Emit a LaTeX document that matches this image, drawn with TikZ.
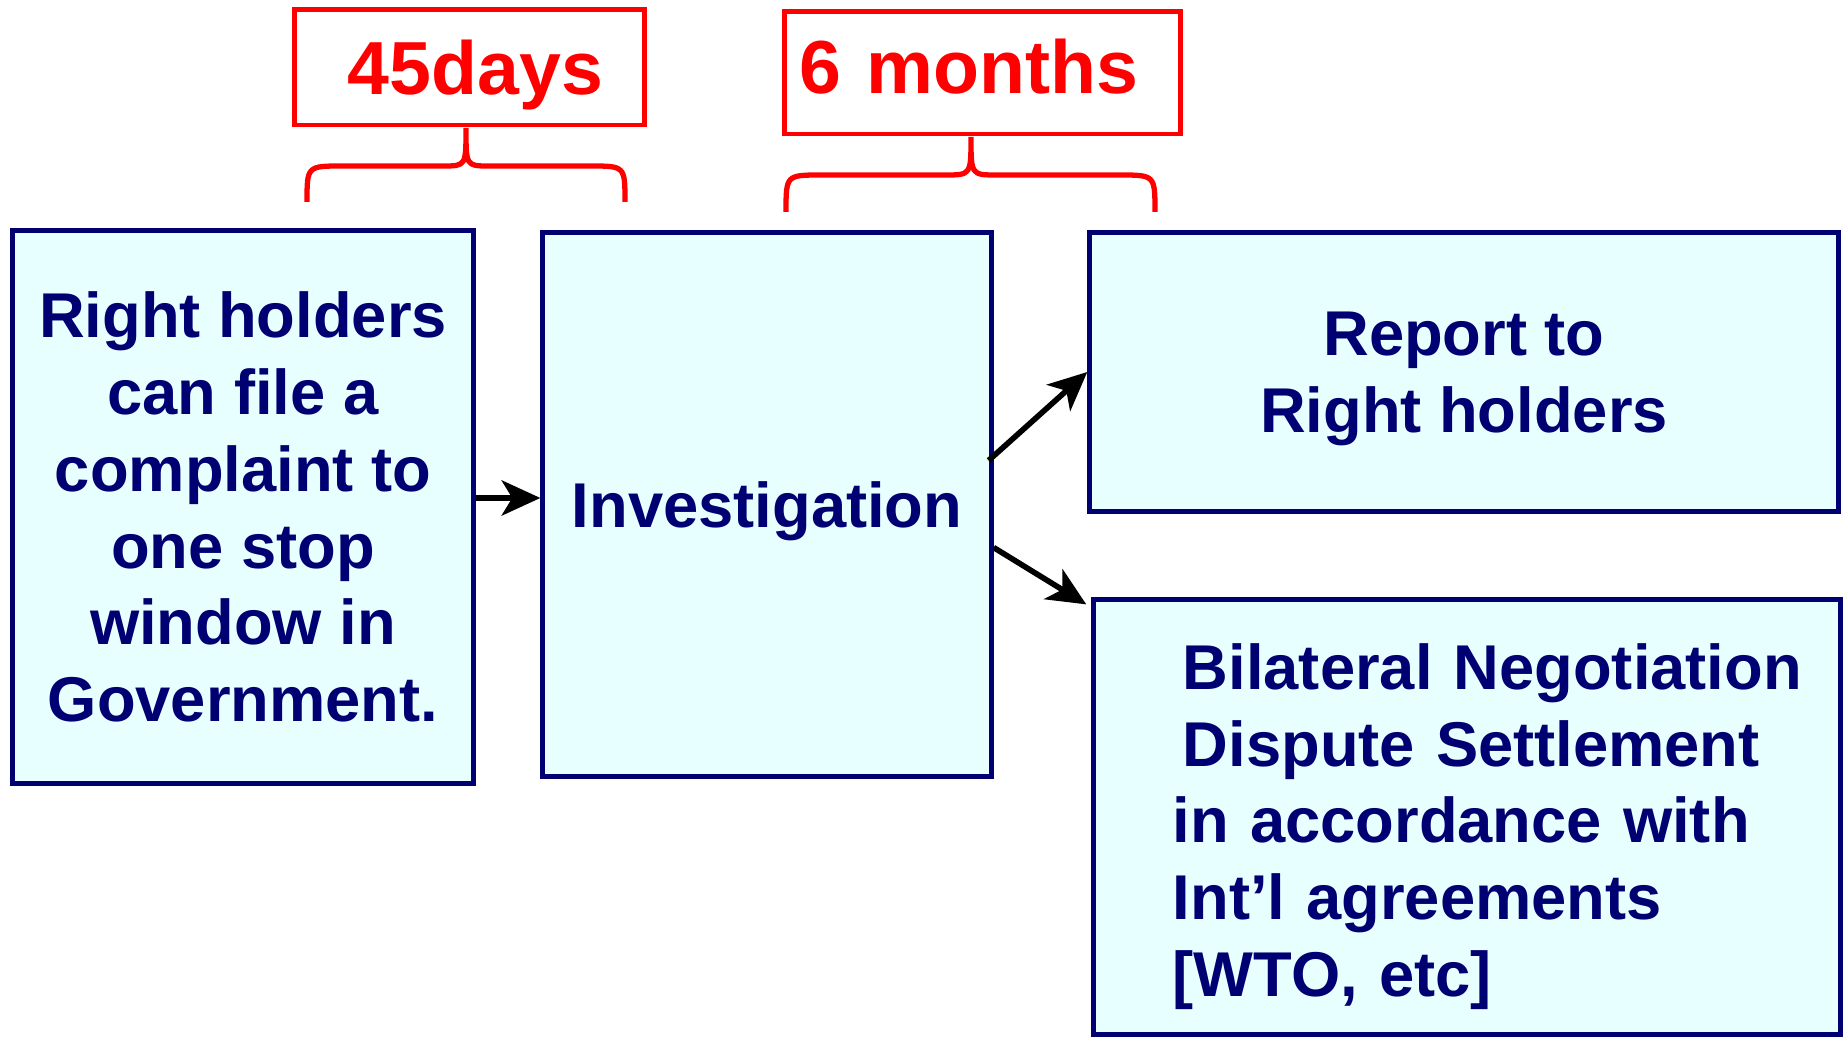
\documentclass[tikz,border=0pt]{standalone}
\usepackage{fontspec}
\setmainfont{Liberation Sans}
\usetikzlibrary{arrows.meta}
\definecolor{navy}{RGB}{0,0,115}
\definecolor{boxfill}{RGB}{232,255,255}
\tikzset{
  stepbox/.style={draw=navy, fill=boxfill, line width=1.42pt, text=navy,
    font=\bfseries\fontsize{18}{21.85}\selectfont, align=center, inner sep=0pt},
  timebox/.style={draw=red, line width=1.4pt, text=red,
    font=\bfseries\fontsize{21.4}{25}\selectfont, inner sep=0pt},
  brace/.style={draw=red, line width=1.5pt},
  arr/.style={->, >={Stealth[length=11pt, width=10pt, inset=3pt]}, line width=1.6pt}
}
\begin{document}
\begin{tikzpicture}[x=0.01cm, y=-0.01cm]
\useasboundingbox (0,0) rectangle (1844,1037);

% process boxes
\node[stepbox, minimum width=4.60cm, minimum height=5.52cm] (file) at (243,507)
  {Right holders\\can file a\\complaint to\\one stop\\window in\\Government.};
\node[stepbox, minimum width=4.48cm, minimum height=5.43cm, text depth=0pt] (invest) at (767,504.5)
  {Investigation};
\node[stepbox, minimum width=7.48cm, minimum height=2.78cm, text depth=0pt] (report) at (1464,372)
  {Report to\\Right holders};
\node[stepbox, minimum width=7.46cm, minimum height=4.34cm, align=left,
  text width=5.88cm, inner xsep=0.79cm] (nego) at (1467,817)
  {\rule{0pt}{0.65cm}\hspace*{0.1cm}\mbox{Bilateral Negotiation}\\\hspace*{0.1cm}\mbox{Dispute Settlement}\\
   \mbox{in accordance with}\\\mbox{Int’l agreements}\\\mbox{[WTO, etc]}};

% durations
\node[timebox, minimum width=3.49cm, minimum height=1.15cm, text depth=0pt] (days) at (469.5,67.5) {\hspace*{0.12cm}45days};
\node[timebox, minimum height=1.22cm, text width=3.65cm, inner xsep=0.15cm, align=left,
  text depth=0.14cm] (months) at (982.5,73) {6 months};

\draw[brace] (307,202) .. controls (307,166) .. (343,166) -- (443,166) .. controls (466,166) .. (466,128)
  .. controls (466,166) .. (489,166) -- (590,166) .. controls (625,166) .. (625,202);
\draw[brace] (786,212) .. controls (786,175) .. (822,175) -- (945,175) .. controls (971,175) .. (971,137)
  .. controls (971,175) .. (997,175) -- (1119,175) .. controls (1155,175) .. (1155,212);

% arrows
\draw[arr] ([yshift=0.09cm]file.east) -- ([yshift=0.065cm]invest.west);
\draw[arr] ([xshift=-0.05cm, yshift=0.44cm]invest.east) -- (report.west);
\draw[arr] ([yshift=-0.43cm]invest.east) -- ([xshift=-0.05cm, yshift=-0.07cm]nego.north west);

\end{tikzpicture}
\end{document}
